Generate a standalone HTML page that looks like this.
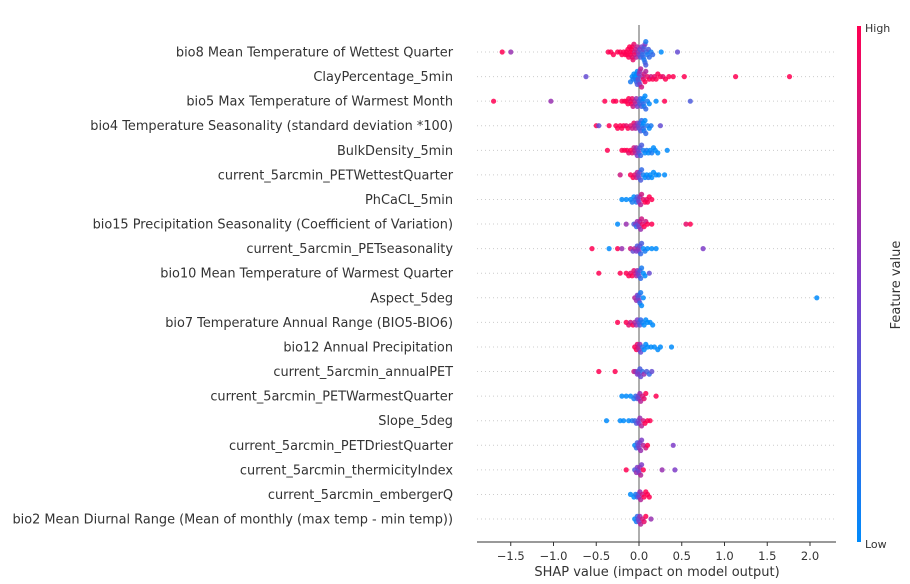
<!DOCTYPE html>
<html><head><meta charset="utf-8"><style>
html,body{margin:0;padding:0;background:#fff;width:910px;height:584px;overflow:hidden}
svg text{font-family:"DejaVu Sans","Liberation Sans",sans-serif;fill:#333}
</style></head><body>
<svg id="chart" width="910" height="584" xmlns="http://www.w3.org/2000/svg"></svg>
<script>
const features = ["bio8 Mean Temperature of Wettest Quarter","ClayPercentage_5min","bio5 Max Temperature of Warmest Month","bio4 Temperature Seasonality (standard deviation *100)","BulkDensity_5min","current_5arcmin_PETWettestQuarter","PhCaCL_5min","bio15 Precipitation Seasonality (Coefficient of Variation)","current_5arcmin_PETseasonality","bio10 Mean Temperature of Warmest Quarter","Aspect_5deg","bio7 Temperature Annual Range (BIO5-BIO6)","bio12 Annual Precipitation","current_5arcmin_annualPET","current_5arcmin_PETWarmestQuarter","Slope_5deg","current_5arcmin_PETDriestQuarter","current_5arcmin_thermicityIndex","current_5arcmin_embergerQ","bio2 Mean Diurnal Range (Mean of monthly (max temp - min temp))"];
const xTicks = [-1.5,-1.0,-0.5,0.0,0.5,1.0,1.5,2.0];
const xTickLabels = ["\u22121.5","\u22121.0","\u22120.5","0.0","0.5","1.0","1.5","2.0"];
const shapValues = [
[-1.6,-1.5,-0.36,-0.33,-0.3,-0.25,-0.22,-0.2,-0.18,-0.16,-0.15,-0.14,-0.13,-0.12,-0.11,-0.1,-0.1,-0.09,-0.08,-0.08,-0.07,-0.06,-0.05,-0.05,-0.04,-0.03,-0.02,-0.01,0,0.01,0.02,0.03,0.04,0.04,0.05,0.05,0.06,0.06,0.07,0.07,0.08,0.08,0.09,0.1,0.11,0.12,0.14,0.16,0.26,0.45],
[-0.62,-0.05,-0.04,-0.03,-0.03,-0.02,-0.02,-0.01,-0.01,0,0,0.01,0.01,-0.08,-0.07,-0.06,-0.1,0.02,0.03,0.04,0.05,0.06,0.07,0.08,0.1,0.12,0.14,0.16,0.18,0.2,0.22,0.25,0.28,0.31,0.35,0.4,0.53,1.13,1.76],
[-1.7,-1.03,-0.4,-0.3,-0.27,-0.2,-0.17,-0.15,-0.13,-0.12,-0.1,-0.09,-0.08,-0.07,-0.05,-0.04,-0.03,-0.02,0,0.01,0.02,0.03,0.04,0.05,0.05,0.06,0.07,0.08,0.1,0.12,0.2,0.3,0.6],
[-0.5,-0.47,-0.35,-0.27,-0.25,-0.22,-0.2,-0.18,-0.15,-0.13,-0.1,-0.08,-0.06,-0.05,-0.04,-0.02,-0.01,0,0.01,0.02,0.03,0.04,0.05,0.05,0.06,0.07,0.08,0.1,0.12,0.14,0.25],
[-0.37,-0.2,-0.17,-0.14,-0.12,-0.1,-0.08,-0.06,-0.05,-0.04,-0.03,-0.02,-0.01,0,0.01,0.02,0.03,0.05,0.07,0.09,0.11,0.13,0.15,0.17,0.19,0.22,0.33],
[-0.22,-0.1,-0.07,-0.05,-0.03,-0.02,-0.01,0,0.01,0.02,0.03,0.05,0.07,0.09,0.11,0.13,0.15,0.17,0.2,0.23,0.3],
[-0.2,-0.15,-0.1,-0.08,-0.06,-0.04,-0.03,-0.02,-0.01,0,0.01,0.02,0.03,0.05,0.07,0.09,0.1,0.12,0.15],
[-0.25,-0.15,-0.06,-0.04,-0.03,-0.02,-0.01,0,0.01,0.02,0.03,0.04,0.06,0.08,0.1,0.15,0.55,0.6],
[-0.55,-0.35,-0.25,-0.2,-0.1,-0.07,-0.05,-0.03,-0.02,-0.01,0,0.01,0.02,0.03,0.05,0.07,0.1,0.15,0.2,0.75],
[-0.47,-0.22,-0.15,-0.12,-0.1,-0.08,-0.06,-0.04,-0.03,-0.02,-0.01,0,0.01,0.02,0.03,0.05,0.07,0.12],
[-0.05,-0.03,-0.02,-0.01,0,0,0.01,0.02,0.03,0.05,2.08],
[-0.25,-0.15,-0.12,-0.1,-0.07,-0.05,-0.03,-0.02,0,0.01,0.02,0.04,0.06,0.08,0.1,0.13,0.16],
[-0.05,-0.03,-0.02,-0.01,0,0.01,0.02,0.04,0.06,0.08,0.1,0.14,0.18,0.22,0.25,0.38],
[-0.47,-0.28,-0.06,-0.04,-0.02,-0.01,0,0.01,0.02,0.04,0.06,0.09,0.12,0.15],
[-0.2,-0.15,-0.1,-0.06,-0.04,-0.02,-0.01,0,0.01,0.02,0.04,0.06,0.08,0.2],
[-0.38,-0.22,-0.18,-0.12,-0.08,-0.05,-0.03,-0.01,0,0.01,0.03,0.05,0.07,0.1,0.13],
[-0.05,-0.03,-0.02,-0.01,0,0.01,0.02,0.03,0.05,0.08,0.1,0.4],
[-0.15,-0.05,-0.03,-0.02,-0.01,0,0.01,0.02,0.03,0.05,0.27,0.42],
[-0.1,-0.06,-0.04,-0.02,-0.01,0,0.01,0.02,0.04,0.06,0.08,0.1,0.12],
[-0.05,-0.03,-0.02,-0.01,0,0.01,0.02,0.04,0.06,0.08,0.14]
];
const featureValues = [
[1,.6,1,1,1,1,1,1,1,1,1,1,1,1,1,1,1,1,.9,1,.9,.9,.8,.9,.8,.7,.7,.6,.5,.4,.3,.5,.3,.2,.4,.2,.3,.1,.5,.2,.1,.3,.2,.1,.3,.2,.1,.2,0,.4],
[.4,0,.1,0,.2,0,.3,0,.4,.5,.3,.6,.5,0,.1,0,.1,.7,.8,.6,.9,.8,1,.7,.9,1,.8,1,.9,1,1,1,.9,1,1,1,1,1,1],
[1,.6,1,1,1,1,1,1,1,1,.9,1,.9,.8,.8,.7,.6,.5,.4,.3,.2,.3,.1,.2,0,.1,0,.2,.1,0,0,1,.3],
[1,.4,1,1,1,1,1,1,.9,1,.9,.8,.9,.7,.7,.6,.5,.4,.3,.3,.2,.1,.2,0,.1,0,.2,.1,0,.1,.4],
[1,1,1,1,.9,1,.9,.8,.8,.7,.6,.5,.5,.4,.3,.2,.3,.1,0,.1,0,0,.1,0,0,0,0],
[.8,1,1,.9,.8,.7,.6,.5,.4,.3,.2,.1,0,0,.1,0,0,0,0,0,0],
[0,0,0,.1,0,.2,.1,.3,.4,.5,.6,.7,.8,.9,1,.9,1,1,1],
[0,.6,.3,.5,.2,.6,.4,.5,.7,.6,.8,.9,1,.8,1,1,.9,1],
[1,0,1,.6,.8,.4,.7,.5,.3,.6,.5,.4,.2,.3,0,.1,0,0,0,.5],
[1,1,1,1,.9,1,.9,.8,.7,.6,.5,.4,.3,.2,.1,0,0,.4],
[.7,.6,.5,.4,.5,.3,.2,.1,0,0,0],
[1,1,.9,.8,1,.7,.6,.5,.4,.3,.2,.1,0,0,0,0,0],
[1,1,.9,.8,.7,.6,.4,.2,0,0,0,0,0,0,0,0],
[1,1,.8,.6,.5,.4,.5,.3,.4,.2,.6,.3,.2,.4],
[0,0,0,.1,.2,.3,.4,.5,.6,.7,.8,.9,1,1],
[0,0,0,0,.1,.2,.3,.4,.5,.6,.7,.8,1,1,1],
[0,.2,.3,.4,.5,.5,.6,.5,.7,.8,1,.5],
[1,.3,.6,.5,.4,.5,.6,.7,.5,1,.6,.5],
[0,0,.1,.2,.3,.5,.6,.7,.8,1,1,1,1],
[0,.1,.2,.4,.5,.6,.7,.8,.9,1,.6]
];
const NS="http://www.w3.org/2000/svg";
const svg=document.getElementById('chart');
const x0=639, pxPerUnit=85.5, rowTop=52, rowStep=24.58, axisY=542, plotL=477, plotR=836;
const xs=v=>x0+v*pxPerUnit;
const ys=i=>rowTop+i*rowStep;
function mk(tag,attrs,parent){const e=document.createElementNS(NS,tag);for(const k in attrs)e.setAttribute(k,attrs[k]);(parent||svg).appendChild(e);return e;}
function col(t){const lo=[0,139,251],mid=[126,60,200],hi=[255,0,82];let a,b,u;if(t<.5){a=lo;b=mid;u=t*2}else{a=mid;b=hi;u=(t-.5)*2}return `rgb(${a.map((c,i)=>Math.round(c+(b[i]-c)*u)).join(',')})`;}
features.forEach((f,i)=>{
  const g=mk('line',{x1:plotL,x2:plotR,y1:ys(i),y2:ys(i),stroke:'#ccc','stroke-width':1,'stroke-dasharray':'1,3'});
  
  
  const t=mk('text',{x:453,y:ys(i)+4.5,'text-anchor':'end','font-size':12.9});
  t.textContent=f;
  
  
});
const zl=mk('line',{x1:x0,x2:x0,y1:25,y2:axisY,stroke:'#999','stroke-width':1.6});


shapValues.forEach((row,i)=>{
  const bins={};
  row.forEach((v,j)=>{
    const b=Math.round(xs(v)/4);
    const n=bins[b]||0;bins[b]=n+1;
    const off=(n%2?1:-1)*Math.ceil(n/2)*2.6;
    const c=mk('circle',{cx:xs(v).toFixed(1),cy:(ys(i)+off).toFixed(1),r:2.6,fill:col(featureValues[i][j]??.5),'fill-opacity':0.85});
    
    
  });
});
const ax=mk('line',{x1:plotL,x2:plotR,y1:axisY,y2:axisY,stroke:'#333','stroke-width':1});


xTicks.forEach((v,k)=>{
  const tk=mk('line',{x1:xs(v),x2:xs(v),y1:axisY,y2:axisY+4,stroke:'#333'});
  
  
  const t=mk('text',{x:xs(v),y:axisY+18,'text-anchor':'middle','font-size':11.5});
  t.textContent=xTickLabels[k];
  
  
});
const xt=mk('text',{x:657,y:576,'text-anchor':'middle','font-size':13});
xt.textContent='SHAP value (impact on model output)';


const defs=mk('defs',{});
const lg=mk('linearGradient',{id:'cb',x1:0,y1:0,x2:0,y2:1},defs);
mk('stop',{offset:'0','stop-color':col(1)},lg);
mk('stop',{offset:'0.5','stop-color':col(.5)},lg);
mk('stop',{offset:'1','stop-color':col(0)},lg);
const cb=mk('rect',{x:857,y:26,width:4,height:516,fill:'url(#cb)'});


const hi=mk('text',{x:865,y:32,'font-size':11});hi.textContent='High';


const lo=mk('text',{x:865,y:548,'font-size':11});lo.textContent='Low';


const fv=mk('text',{x:900,y:285,'font-size':13,'text-anchor':'middle',transform:'rotate(-90 900 285)'});fv.textContent='Feature value';


</script>
</body></html>
